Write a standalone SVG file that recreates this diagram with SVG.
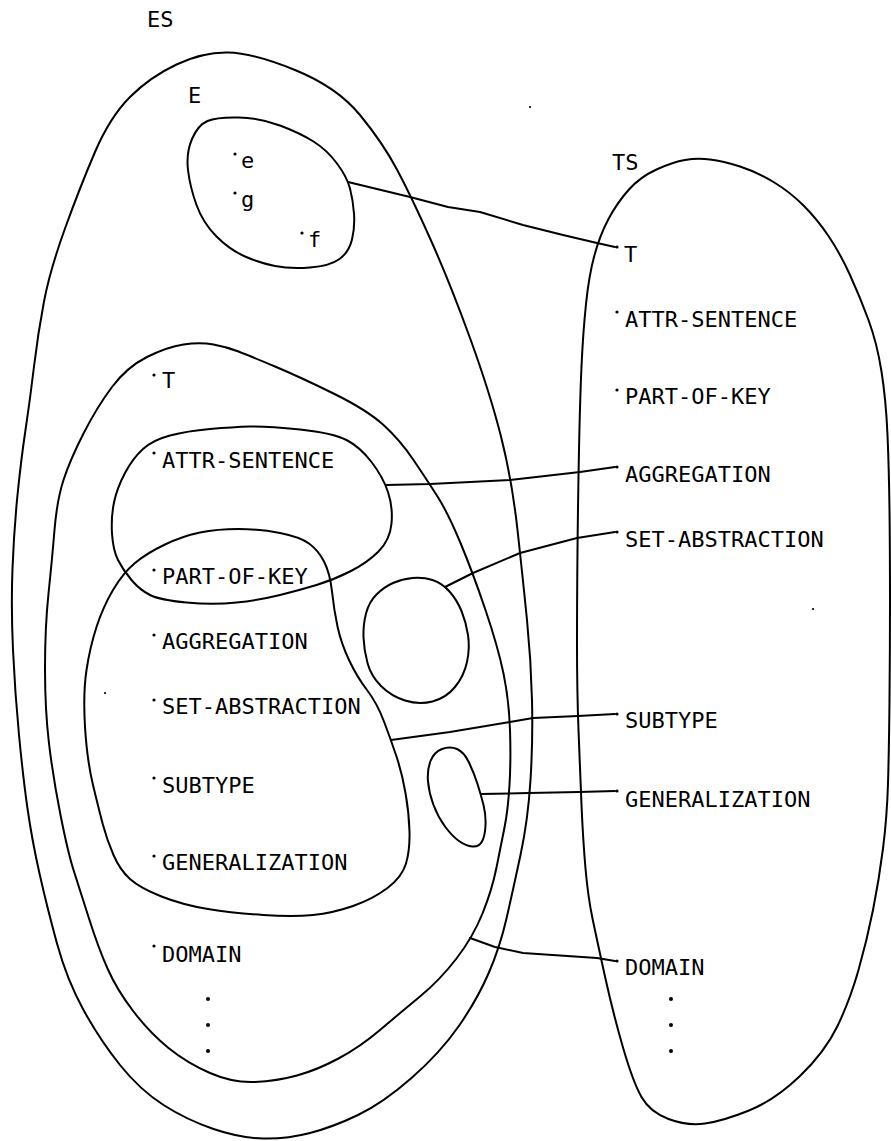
<svg xmlns="http://www.w3.org/2000/svg" width="891" height="1141" viewBox="0 0 891 1141">
  <style>
    .loop { fill: none; stroke: #000; stroke-width: 2; stroke-linejoin: round; }
    .link { fill: none; stroke: #000; stroke-width: 2; stroke-linejoin: round; stroke-linecap: round; }
    .lbl { font-family: "DejaVu Sans Mono", "Liberation Mono", monospace; font-size: 22px; fill: #000; }
    .pt { fill: #000; }
  </style>
  <rect width="891" height="1141" fill="#fff"/>

  <!-- entity space ES -->
  <g id="es">
    <text class="lbl" x="147" y="27">ES</text>
    <path class="loop" d="M228,52.5 Q253,53 295,70 Q337,87 360,115 Q383,143 397.5,170.5 Q412,198 431,240.5 Q450,283 470,338 Q490,393 501,436.5 Q512,480 517.5,530 Q523,580 527,620 Q531,660 532,700 Q533,740 530.5,780 Q528,820 520.5,855 Q513,890 506.5,918.5 Q500,947 488.5,973.5 Q477,1000 458.5,1026.5 Q440,1053 411.5,1078 Q383,1103 358,1115 Q333,1127 310,1133 Q287,1139 263.5,1138.5 Q240,1138 213.5,1129 Q187,1120 163.5,1105 Q140,1090 120,1065 Q100,1040 83.5,1010 Q67,980 57,943.5 Q47,907 39.5,873.5 Q32,840 27.5,808.5 Q23,777 19,735 Q15,693 13,650 Q11,607 12.5,568.5 Q14,530 17.5,495 Q21,460 25.5,430 Q30,400 34,366.5 Q38,333 44,301.5 Q50,270 65,228.5 Q80,187 95,152 Q110,117 130,97 Q150,77 176.5,64.5 Q203,52 228,52.5 Z"/>
  </g>

  <!-- set E with members e, g, f -->
  <g id="set-e">
    <text class="lbl" x="188" y="103">E</text>
    <path class="loop" d="M238.5,117.5 Q260,118 280,125.5 Q300,133 313.5,141.5 Q327,150 337,163.5 Q347,177 350,188.5 Q353,200 354,213.5 Q355,227 352,239.5 Q349,252 339.5,259 Q330,266 310,267.5 Q290,269 275,266 Q260,263 245,256.5 Q230,250 216.5,236.5 Q203,223 196.5,205 Q190,187 188,170 Q186,153 192,139 Q198,125 207.5,121 Q217,117 238.5,117.5 Z"/>
    <circle class="pt" cx="235" cy="154" r="1.6"/>
    <text class="lbl" x="241" y="168">e</text>
    <circle class="pt" cx="235" cy="193" r="1.6"/>
    <text class="lbl" x="241" y="207">g</text>
    <circle class="pt" cx="302" cy="233" r="1.6"/>
    <text class="lbl" x="308" y="247">f</text>
  </g>

  <!-- set T inside ES -->
  <g id="set-t">
    <path class="loop" d="M183.5,344.5 Q200,342 213.5,344.5 Q227,347 238.5,351.5 Q250,356 275,366.5 Q300,377 333.5,393.5 Q367,410 383.5,425 Q400,440 413.5,460 Q427,480 437.5,496.5 Q448,513 460.5,543 Q473,573 485.5,610 Q498,647 503.5,673.5 Q509,700 510,730 Q511,760 509.5,785 Q508,810 504.5,827.5 Q501,845 496.5,867.5 Q492,890 482.5,913.5 Q473,937 456.5,958.5 Q440,980 420,996.5 Q400,1013 380,1030 Q360,1047 338.5,1058.5 Q317,1070 297,1075.5 Q277,1081 255,1082 Q233,1083 210,1073 Q187,1063 168.5,1048 Q150,1033 133.5,1011.5 Q117,990 107.5,968.5 Q98,947 89,918.5 Q80,890 74,871.5 Q68,853 60.5,815 Q53,777 49,743.5 Q45,710 45,668.5 Q45,627 48.5,593.5 Q52,560 54.5,530 Q57,500 63.5,480 Q70,460 83.5,433.5 Q97,407 112,387 Q127,367 147,357 Q167,347 183.5,344.5 Z"/>
    <circle class="pt" cx="154" cy="375" r="1.6"/>
    <text class="lbl" x="162" y="388">T</text>
    <circle class="pt" cx="154" cy="946" r="1.6"/>
    <text class="lbl" x="162" y="962">DOMAIN</text>
    <circle class="pt" cx="208" cy="999" r="2"/>
    <circle class="pt" cx="208" cy="1025" r="2"/>
    <circle class="pt" cx="208" cy="1051" r="2"/>
  </g>

  <!-- ATTR-SENTENCE set -->
  <g id="set-attr">
    <path class="loop" d="M250,426.5 Q267,426 300,429.5 Q333,433 346.5,440 Q360,447 371.5,462 Q383,477 388,492 Q393,507 391.5,523.5 Q390,540 378.5,551.5 Q367,563 350,571.5 Q333,580 316.5,585 Q300,590 280,595 Q260,600 236.5,602.5 Q213,605 186.5,602.5 Q160,600 150,595 Q140,590 131.5,580 Q123,570 118,560 Q113,550 112,533.5 Q111,517 114,502.5 Q117,488 125,473 Q133,458 143,449 Q153,440 170,435.5 Q187,431 210,429 Q233,427 250,426.5 Z"/>
    <circle class="pt" cx="154" cy="453" r="1.6"/>
    <text class="lbl" x="162" y="468">ATTR-SENTENCE</text>
  </g>

  <!-- PART-OF-KEY ... GENERALIZATION set -->
  <g id="set-key">
    <path class="loop" d="M238.5,529 Q260,529 280,533 Q300,537 309,543.5 Q318,550 324,561.5 Q330,573 332,591.5 Q334,610 337.5,626.5 Q341,643 349,660 Q357,677 367,690 Q377,703 384,721.5 Q391,740 396.5,756.5 Q402,773 405.5,793 Q409,813 409.5,831.5 Q410,850 406,863.5 Q402,877 387.5,888 Q373,899 353,906 Q333,913 313,915 Q293,917 263,915 Q233,913 208,909 Q183,905 161.5,896.5 Q140,888 130,879 Q120,870 113.5,855 Q107,840 103,825 Q99,810 93,785 Q87,760 85,726.5 Q83,693 86.5,670 Q90,647 96.5,627 Q103,607 113,590 Q123,573 135,563 Q147,553 165,544.5 Q183,536 200,532.5 Q217,529 238.5,529 Z"/>
    <circle class="pt" cx="154" cy="570" r="1.6"/>
    <text class="lbl" x="162" y="584">PART-OF-KEY</text>
    <circle class="pt" cx="154" cy="635" r="1.6"/>
    <text class="lbl" x="162" y="649">AGGREGATION</text>
    <circle class="pt" cx="154" cy="700" r="1.6"/>
    <text class="lbl" x="162" y="714">SET-ABSTRACTION</text>
    <circle class="pt" cx="154" cy="778" r="1.6"/>
    <text class="lbl" x="162" y="793">SUBTYPE</text>
    <circle class="pt" cx="154" cy="856" r="1.6"/>
    <text class="lbl" x="162" y="870">GENERALIZATION</text>
  </g>

  <!-- empty round set -->
  <g id="set-round">
    <path class="loop" d="M432.5,580 Q442,583 449.5,591.5 Q457,600 461.5,611 Q466,622 468,635 Q470,648 467,662 Q464,676 455,687 Q446,698 432.5,701.5 Q419,705 405,700.5 Q391,696 381,686 Q371,676 367.5,663 Q364,650 363.5,637.5 Q363,625 366,613.5 Q369,602 376.5,594.5 Q384,587 393,583 Q402,579 412.5,578 Q423,577 432.5,580 Z"/>
  </g>

  <!-- empty small set -->
  <g id="set-small">
    <path class="loop" d="M457,749 Q464,752 469,762.5 Q474,773 477.5,784 Q481,795 483.5,805 Q486,815 485.5,825.5 Q485,836 482,841.5 Q479,847 472.5,846.5 Q466,846 459,841 Q452,836 445,826.5 Q438,817 433.5,805 Q429,793 428,781.5 Q427,770 430.5,761 Q434,752 442,749 Q450,746 457,749 Z"/>
  </g>

  <!-- type space TS -->
  <g id="ts">
    <text class="lbl" x="612" y="170">TS</text>
    <path class="loop" d="M685,160 Q697,158 710,159.5 Q723,161 740,166.5 Q757,172 773.5,182 Q790,192 803.5,205.5 Q817,219 828.5,236 Q840,253 850,275 Q860,297 868.5,320 Q877,343 881.5,371.5 Q886,400 887.5,435 Q889,470 889.5,510 Q890,550 890,600 Q890,650 889.5,700 Q889,750 888,783.5 Q887,817 883,848.5 Q879,880 873,910 Q867,940 858.5,970 Q850,1000 837.5,1026 Q825,1052 800,1076 Q775,1100 749,1110.5 Q723,1121 705,1123.5 Q687,1126 668.5,1119 Q650,1112 641.5,1097 Q633,1082 623,1047.5 Q613,1013 605,976.5 Q597,940 592.5,918.5 Q588,897 585.5,868.5 Q583,840 581.5,805 Q580,770 578.5,730 Q577,690 577,645 Q577,600 577.5,550 Q578,500 579,450 Q580,400 581.5,366.5 Q583,333 586,304 Q589,275 594.5,255 Q600,235 608.5,219 Q617,203 628.5,190 Q640,177 656.5,169.5 Q673,162 685,160 Z"/>
    <circle class="pt" cx="617" cy="247" r="1.6"/>
    <text class="lbl" x="624" y="262">T</text>
    <circle class="pt" cx="617" cy="312" r="1.6"/>
    <text class="lbl" x="625" y="327">ATTR-SENTENCE</text>
    <circle class="pt" cx="617" cy="390" r="1.6"/>
    <text class="lbl" x="625" y="404">PART-OF-KEY</text>
    <circle class="pt" cx="617" cy="467" r="1.6"/>
    <text class="lbl" x="625" y="482">AGGREGATION</text>
    <circle class="pt" cx="617" cy="532" r="1.6"/>
    <text class="lbl" x="625" y="547">SET-ABSTRACTION</text>
    <circle class="pt" cx="617" cy="714" r="1.6"/>
    <text class="lbl" x="625" y="728">SUBTYPE</text>
    <circle class="pt" cx="617" cy="791" r="1.6"/>
    <text class="lbl" x="625" y="807">GENERALIZATION</text>
    <circle class="pt" cx="617" cy="961" r="1.6"/>
    <text class="lbl" x="625" y="975">DOMAIN</text>
    <circle class="pt" cx="671" cy="999" r="2"/>
    <circle class="pt" cx="671" cy="1025" r="2"/>
    <circle class="pt" cx="671" cy="1051" r="2"/>
  </g>

  <!-- mappings from entity sets to type names -->
  <g id="connectors">
    <path class="link" d="M348,182 L410,197 L448,207 L480,212 L523,225 L563,235 L597,243 L615,247"/>
    <path class="link" d="M386,485 L430,484 L510,480 L580,472 L615,467"/>
    <path class="link" d="M445,587 L473,573 L520,553 L577,538 L615,532"/>
    <path class="link" d="M391,740 L450,732 L510,722 L533,718 L578,716 L615,714"/>
    <path class="link" d="M481,794 L529,793 L579,792 L615,791"/>
    <path class="link" d="M470,938 L495,947 L523,953 L597,958 L615,961"/>
  </g>

  <!-- specks -->
  <circle class="pt" cx="530" cy="107" r="1.1"/>
  <circle class="pt" cx="105" cy="693" r="1.1"/>
  <circle class="pt" cx="813" cy="609" r="1.1"/>
</svg>
